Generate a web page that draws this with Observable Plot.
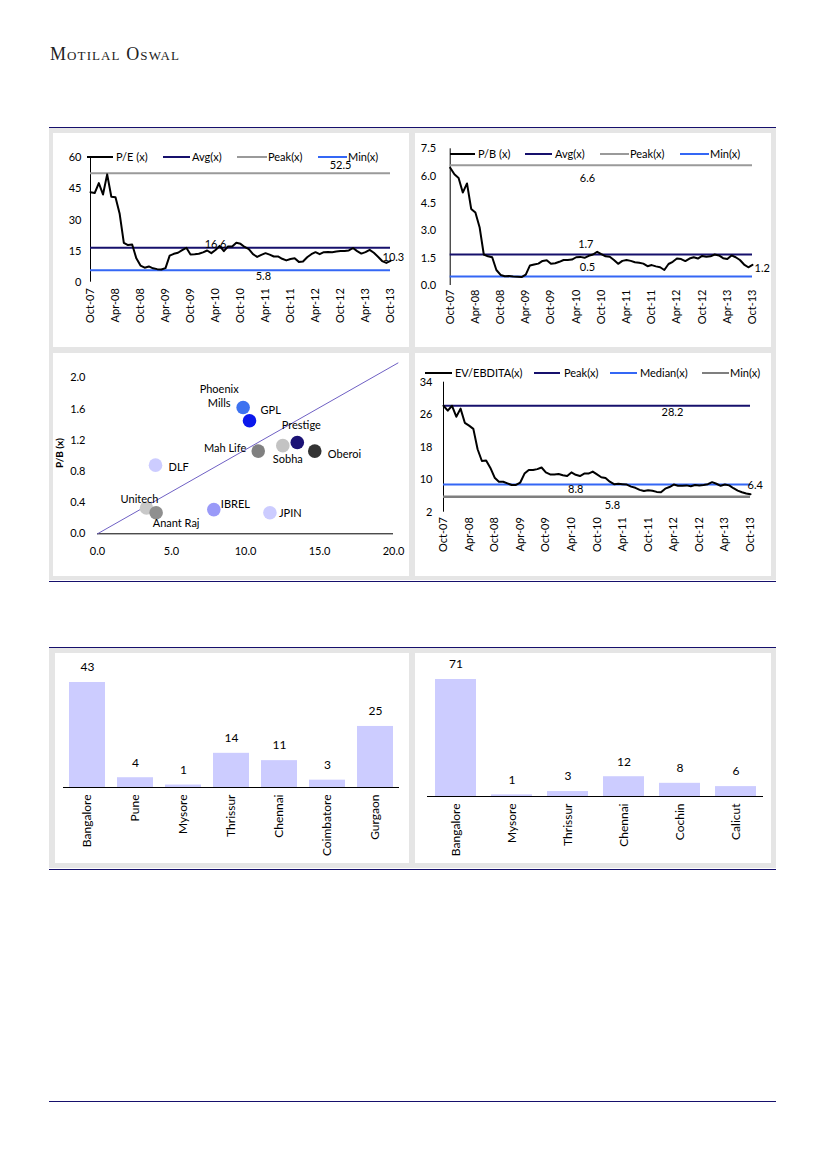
<!DOCTYPE html>
<html><head><meta charset="utf-8">
<script src="https://cdn.jsdelivr.net/npm/d3@7"></script>
<script src="https://cdn.jsdelivr.net/npm/@observablehq/plot@0.6"></script>
<style>
html,body{margin:0;padding:0;background:#fff}
body{width:826px;height:1169px;position:relative;overflow:hidden;font-family:Lato,"Noto Sans",sans-serif;color:#000}
.rule{position:absolute;left:49px;width:727px;height:1.5px;background:#16106c}
.gray{position:absolute;left:49px;width:727px;background:#e5e5e5}
.panel{position:absolute;background:#fff;overflow:visible}
.panel svg{position:absolute;left:0;top:0;overflow:visible}
.lg{position:absolute;height:2px}
.lt{position:absolute;font-size:11px;line-height:11px;transform:translateY(-55%);white-space:nowrap}
.brand{position:absolute;left:50px;top:44px;font-family:"Liberation Serif","DejaVu Serif",serif;font-variant:small-caps;font-size:18px;letter-spacing:1.1px;color:#222}
</style></head>
<body>
<div class="brand">Motilal Oswal</div>
<div class="rule" style="top:126.5px"></div>
<div class="gray" style="top:128px;height:452px"></div>
<div class="rule" style="top:580.5px"></div>
<div class="rule" style="top:646.5px"></div>
<div class="gray" style="top:648px;height:220px"></div>
<div class="rule" style="top:868.5px"></div>
<div class="rule" style="top:1100.5px"></div>
<script>
// ---------- DATA ----------
const tickLabels = ["Oct-07","Apr-08","Oct-08","Apr-09","Oct-09","Apr-10","Oct-10","Apr-11","Oct-11","Apr-12","Oct-12","Apr-13","Oct-13"];

const peSeries = [43.4,43,47.8,42.3,52,41.2,41,33,19,17.9,18.2,11.5,8,7,7.6,6.7,6.3,6.1,6.8,12.8,13.7,14.2,15.5,16.6,13.4,13.5,13.7,14.4,15.3,14,15.5,17.5,15,17.2,17.2,19,18.5,17,16,13.5,12.2,13.2,14,13.3,12.4,12.4,11.3,10.5,11.2,11.5,9.8,10,12,13.5,14.5,13.5,14.5,14.6,14.5,14.8,15,15,15.3,16.5,15,13.8,14.5,15.6,14.2,12.3,10.2,9.3,10.3];
const peRefNames = ["Peak(x)","Avg(x)","Min(x)"];
const peRefValues = [52.5,16.6,5.8];

const pbSeries = [6.46,6.1,5.9,5.1,5.6,4.2,4.0,3.2,1.7,1.6,1.55,0.85,0.58,0.51,0.52,0.49,0.48,0.46,0.6,1.1,1.15,1.2,1.35,1.38,1.19,1.22,1.3,1.4,1.4,1.42,1.55,1.57,1.52,1.63,1.7,1.85,1.72,1.6,1.58,1.4,1.19,1.35,1.4,1.35,1.28,1.25,1.2,1.06,1.12,1.05,1.0,0.85,1.18,1.3,1.48,1.45,1.34,1.48,1.55,1.48,1.62,1.58,1.6,1.7,1.65,1.5,1.45,1.65,1.55,1.4,1.15,1.0,1.13];
const pbRefNames = ["Peak(x)","Avg(x)","Min(x)"];
const pbRefValues = [6.6,1.7,0.5];
const pbLast = "1.2";

const evSeries = [28.2,27,28.2,25.5,27.5,24,23.3,22.5,17.5,14.6,14.7,12.9,10.5,9.5,9.5,9.1,8.7,8.7,9.3,11.5,12.4,12.4,12.6,13,11.8,11.3,11.3,11.4,11.1,10.9,11.8,11.2,10.9,11.5,11.5,12,11.3,10.6,10.4,9.5,8.9,9,8.9,8.8,8.3,8,7.5,7.2,7.4,7.3,7,6.9,7.8,8.2,8.8,8.5,8.5,8.6,8.4,8.7,8.6,8.7,8.9,9.4,9,8.5,8.8,8.6,7.9,7.3,6.9,6.6,6.4];
const evRefNames = ["Peak(x)","Median(x)","Min(x)"];
const evRefValues = [28.2,8.8,5.8];

const companies = ["Phoenix\nMills","GPL","Prestige","Sobha","Mah Life","Oberoi","DLF","Unitech","Anant Raj","IBREL","JPIN"];
const compX = [9.84,10.27,13.5,12.52,10.86,14.68,3.92,3.31,3.96,7.86,11.65];
const compPB = [1.62,1.45,1.17,1.13,1.06,1.06,0.88,0.33,0.27,0.31,0.27];
const trendX = [0,20.3];
const trendY = [0,2.19];

const citiesA = ["Bangalore","Pune","Mysore","Thrissur","Chennai","Coimbatore","Gurgaon"];
const valuesA = [43,4,1,14,11,3,25];
const citiesB = ["Bangalore","Mysore","Thrissur","Chennai","Cochin","Calicut"];
const valuesB = [71,1,3,12,8,6];

// ---------- STYLES ----------
const NAVY = "#16106c", BLUE = "#3467f5", GRAY = "#9a9a9a", GRAY2 = "#7f7f7f";
const dotColors = ["#3d72f0","#0b18ec","#1b1275","#c3c3c3","#808080","#333333","#ccccff","#c8c8c8","#8f8f8f","#9a9af8","#ccccff"];
const labelOffsets = [[-24,-12,"middle"],[11,-11,"start"],[4,-18,"middle"],[5,13,"middle"],[-12,-4,"end"],[13,2,"start"],[13,1,"start"],[-7,-9,"middle"],[20,10,"middle"],[7,-6,"start"],[9,0,"start"]];

const baseStyle = {fontFamily: "Lato, 'Noto Sans', sans-serif", fontSize: "11px", color: "#000", background: "transparent", overflow: "visible"};

function panel(left, top, w, h) {
  const d = document.createElement("div");
  d.className = "panel";
  Object.assign(d.style, {left: left + "px", top: top + "px", width: w + "px", height: h + "px"});
  document.body.appendChild(d);
  return d;
}
function legend(y, items) {
  for (const it of items) {
    const l = document.createElement("div");
    l.className = "lg";
    Object.assign(l.style, {left: it[0] + "px", top: (y - 1) + "px", width: (it[1] - it[0]) + "px", background: it[3]});
    document.body.appendChild(l);
    const t = document.createElement("div");
    t.className = "lt";
    t.textContent = it[4];
    Object.assign(t.style, {left: it[2] + "px", top: y + "px"});
    document.body.appendChild(t);
  }
}

const monthTicks = tickLabels.map((_, i) => i * 6);

function lineChart(el, o) {
  const series = o.series.map((v, i) => ({m: i, v}));
  const refs = o.refValues.map((v, i) => ({v, name: o.refNames[i], label: String(v), color: o.refColors[i], lx: o.labelAt[i], dy: o.labelDy[i], w: o.refWidths[i]}));
  const last = series[series.length - 1];
  const plot = Plot.plot({
    width: o.w, height: o.h,
    marginLeft: o.ml, marginRight: o.mr, marginTop: o.mt, marginBottom: o.mb,
    style: baseStyle,
    x: {domain: [0, 72]},
    y: {domain: o.yDomain},
    marks: [
      Plot.ruleX([0], {y1: o.yDomain[0], y2: o.yDomain[1], stroke: "#000", strokeWidth: 1}),
      ...refs.map(r => Plot.ruleY([r.v], {stroke: r.color, strokeWidth: r.w})),
      Plot.line(series, {x: "m", y: "v", stroke: "#000", strokeWidth: 2, curve: "linear"}),
      ...refs.map(r => Plot.text([r], {x: "lx", y: "v", text: "label", dy: r.dy, fontSize: 11, fill: "#000"})),
      Plot.text([last], {x: "m", y: "v", text: () => o.lastLabel, textAnchor: "start", dx: o.lastDx, dy: o.lastDy, fontSize: 11, fill: "#000"}),
      Plot.axisY({ticks: o.yTicks, tickFormat: o.yFmt, tickSize: 0, tickPadding: o.yPad, label: null, fontSize: 11}),
      Plot.axisX({ticks: monthTicks, tickFormat: d => tickLabels[d / 6], tickRotate: -90, tickSize: 0, tickPadding: o.xPad, label: null, fontSize: 11})
    ]
  });
  el.appendChild(plot);
}

// P/E chart
lineChart(panel(53, 133, 356, 214), {
  w: 356, h: 214, ml: 37, mr: 19, mt: 24.3, mb: 65.3,
  series: peSeries, refValues: peRefValues, refNames: peRefNames,
  refColors: [GRAY, NAVY, BLUE], refWidths: [2, 2, 2],
  labelAt: [60, 30, 41.5], labelDy: [-8, -3, 6],
  lastLabel: "10.3", lastDx: -8, lastDy: -3,
  yDomain: [0, 60], yTicks: [0, 15, 30, 45, 60], yFmt: d3.format("d"), yPad: 9, xPad: 6
});
legend(157, [[87, 113, 116, "#000", "P/E (x)"], [163, 190, 192, NAVY, "Avg(x)"], [237, 267, 268, GRAY, "Peak(x)"], [318, 347, 348, BLUE, "Min(x)"]]);

// P/B chart
lineChart(panel(415, 133, 356, 214), {
  w: 356, h: 214, ml: 34.7, mr: 19, mt: 15.3, mb: 62,
  series: pbSeries, refValues: pbRefValues, refNames: pbRefNames,
  refColors: [GRAY, NAVY, BLUE], refWidths: [2, 2, 2],
  labelAt: [32.7, 32.3, 32.7], labelDy: [13, -10.5, -8.5],
  lastLabel: pbLast, lastDx: 2, lastDy: 4,
  yDomain: [0, 7.5], yTicks: [0, 1.5, 3, 4.5, 6, 7.5], yFmt: d3.format(".1f"), yPad: 14, xPad: 4
});
legend(154, [[450, 475, 478, "#000", "P/B (x)"], [525, 552, 555, NAVY, "Avg(x)"], [600, 629, 630, GRAY, "Peak(x)"], [680, 709, 710, BLUE, "Min(x)"]]);

// EV/EBITDA chart
lineChart(panel(415, 353, 356, 223), {
  w: 356, h: 223, ml: 28, mr: 21, mt: 28.7, mb: 64.3,
  series: evSeries, refValues: evRefValues, refNames: evRefNames,
  refColors: [NAVY, BLUE, GRAY2], refWidths: [2, 2, 2.5],
  labelAt: [53.7, 31, 39.6], labelDy: [7, 5, 9],
  lastLabel: "6.4", lastDx: -3, lastDy: -9,
  yDomain: [2, 34], yTicks: [2, 10, 18, 26, 34], yFmt: d3.format("d"), yPad: 11, xPad: 5
});
legend(373, [[425, 452, 455, "#000", "EV/EBDITA(x)"], [534, 560, 564, NAVY, "Peak(x)"], [610, 637, 640, BLUE, "Median(x)"], [702, 729, 730, GRAY2, "Min(x)"]]);

// Scatter
{
  const el = panel(53, 353, 356, 223);
  const pts = companies.map((name, i) => ({name, x: compX[i], y: compPB[i], color: dotColors[i], off: labelOffsets[i]}));
  const trend = trendX.map((x, i) => ({x, y: trendY[i]}));
  const plot = Plot.plot({
    width: 356, height: 223, marginLeft: 44, marginRight: 16, marginTop: 24.3, marginBottom: 42.7,
    style: baseStyle,
    x: {domain: [0, 20]},
    y: {domain: [0, 2]},
    marks: [
      Plot.ruleY([0], {stroke: "#000", strokeWidth: 1}),
      Plot.line(trend, {x: "x", y: "y", stroke: "#6f60c4", strokeWidth: 1}),
      Plot.dot(pts, {x: "x", y: "y", r: 6.8, fill: "color", stroke: "none"}),
      ...pts.map(p => Plot.text([p], {x: "x", y: "y", text: "name", dx: p.off[0], dy: p.off[1], textAnchor: p.off[2], fontSize: 11, fill: "#000", lineHeight: 1.25})),
      Plot.axisX({ticks: [0, 5, 10, 15, 20], tickFormat: d3.format(".1f"), tickSize: 0, tickPadding: 13, label: null, fontSize: 11}),
      Plot.axisY({ticks: [0, 0.4, 0.8, 1.2, 1.6, 2.0], tickFormat: d3.format(".1f"), tickSize: 0, tickPadding: 12, label: null, fontSize: 11})
    ]
  });
  el.appendChild(plot);
  const t = document.createElement("div");
  t.textContent = "P/B (x)";
  Object.assign(t.style, {position: "absolute", left: "59px", top: "453px", transform: "translate(-50%,-50%) rotate(-90deg)", fontSize: "10px", fontWeight: "bold", whiteSpace: "nowrap"});
  document.body.appendChild(t);
}

// Bar charts
function barChart(el, cities, values, o) {
  const data = cities.map((c, i) => ({c, v: values[i]}));
  const plot = Plot.plot({
    width: o.w, height: o.h, marginLeft: o.ml, marginRight: o.mr, marginTop: o.mt, marginBottom: o.mb,
    style: {...baseStyle, fontSize: "12px"},
    x: {type: "band", domain: cities, paddingInner: o.pi, paddingOuter: o.po},
    y: {domain: [0, d3.max(values)], axis: null},
    marks: [
      Plot.barY(data, {x: "c", y: "v", fill: "#ccccff"}),
      Plot.ruleY([0], {stroke: "#000", strokeWidth: 1}),
      Plot.text(data, {x: "c", y: "v", text: d => String(d.v), dy: -15, fontSize: 12, fill: "#000"}),
      Plot.axisX({tickRotate: -90, tickSize: 0, tickPadding: o.xPad, label: null, fontSize: 12})
    ]
  });
  el.appendChild(plot);
}
barChart(panel(55, 653, 354, 210), citiesA, valuesA, {w: 354, h: 210, ml: 8, mr: 10, mt: 29, mb: 76, pi: 0.25, po: 0.125, xPad: 7});
barChart(panel(415, 653, 356, 210), citiesB, valuesB, {w: 356, h: 210, ml: 12, mr: 8, mt: 26, mb: 67, pi: 0.27, po: 0.125, xPad: 7});
</script>
</body></html>
